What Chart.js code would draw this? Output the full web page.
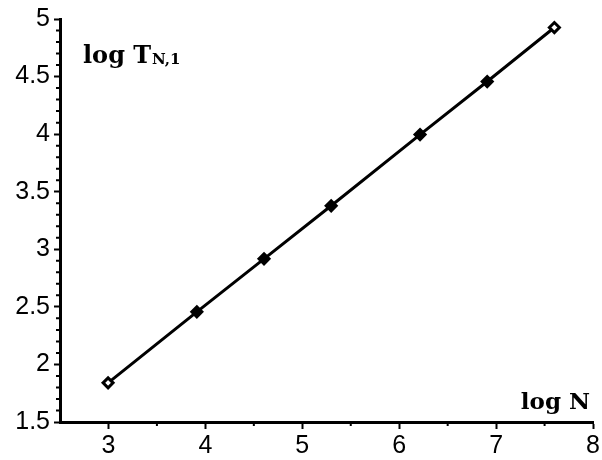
<!DOCTYPE html>
<html>
<head>
<meta charset="utf-8">
<script src="https://cdn.jsdelivr.net/npm/chart.js@4.4.1/dist/chart.umd.min.js"></script>
<style>
  html, body { margin: 0; padding: 0; background: #fff; }
  #wrap { width: 602px; height: 460px; position: relative; }
</style>
</head>
<body>
<div id="wrap"><canvas id="c" width="602" height="460"></canvas></div>
<script>
// Data: log N vs log T_{N,1}
const logN = [2.996, 3.912, 4.605, 5.298, 6.215, 6.908, 7.601];
const logT = [1.84, 2.457, 2.917, 3.378, 3.996, 4.457, 4.926];
const pointFills = ['#fff', '#000', '#000', '#000', '#000', '#000', '#fff'];

const xMin = 2.5, xMax = 8, xStep = 0.5;
const yMin = 1.5, yMax = 5, yStep = 0.1;

const yLabel = 'log T';
const ySub = 'N,1';
const xLabel = 'log N';

const isMajorX = v => Math.abs(v - Math.round(v)) < 1e-6;
const isMajorY = v => Math.abs(v * 2 - Math.round(v * 2)) < 1e-6;

const minorTicks = {
  id: 'minorTicks',
  afterDraw(chart) {
    const ctx = chart.ctx;
    const xs = chart.scales.x, ys = chart.scales.y;
    ctx.save();
    ctx.strokeStyle = '#000';
    ctx.lineWidth = 2;
    ctx.beginPath();
    xs.ticks.forEach(t => {
      if (!isMajorX(t.value) && t.value > xMin + 1e-6) {
        const px = xs.getPixelForValue(t.value);
        ctx.moveTo(px, xs.top);
        ctx.lineTo(px, xs.top + 4);
      }
    });
    ys.ticks.forEach(t => {
      if (!isMajorY(t.value)) {
        const py = ys.getPixelForValue(t.value);
        ctx.moveTo(ys.right, py);
        ctx.lineTo(ys.right - 4, py);
      }
    });
    ctx.stroke();

    // axis captions
    ctx.fillStyle = '#000';
    ctx.textBaseline = 'alphabetic';
    ctx.font = 'bold 24px "DejaVu Serif"';
    ctx.textAlign = 'left';
    const lx = chart.chartArea.left + 23, ly = chart.chartArea.top + 44;
    ctx.fillText(yLabel, lx, ly);
    const w = ctx.measureText(yLabel).width;
    ctx.font = 'bold 15px "DejaVu Serif"';
    ctx.fillText(ySub, lx + w + 1, ly + 1);

    ctx.font = 'bold 23px "DejaVu Serif"';
    ctx.textAlign = 'right';
    ctx.fillText(xLabel, chart.chartArea.right - 3, chart.chartArea.bottom - 13);
    ctx.restore();
  }
};

new Chart(document.getElementById('c'), {
  type: 'line',
  data: {
    datasets: [{
      data: logN.map((x, i) => ({ x: x, y: logT[i] })),
      borderColor: '#000',
      borderWidth: 3,
      tension: 0,
      pointStyle: 'rectRot',
      pointRadius: 5,
      pointBorderWidth: 3,
      pointBorderColor: '#000',
      pointBackgroundColor: pointFills,
      clip: false
    }]
  },
  options: {
    responsive: false,
    animation: false,
    events: [],
    layout: { padding: { left: 0, right: 8, top: 18, bottom: 0 } },
    plugins: { legend: { display: false }, tooltip: { enabled: false }, title: { display: false } },
    scales: {
      x: {
        type: 'linear',
        min: xMin, max: xMax,
        afterFit: s => { s.height = 38; },
        border: { display: true, color: '#000', width: 3 },
        grid: {
          drawOnChartArea: false, drawTicks: true, tickLength: 7,
          tickWidth: 2,
          tickColor: c => (c.tick && isMajorX(c.tick.value) && c.tick.value > xMin + 1e-6) ? '#000' : 'rgba(0,0,0,0)'
        },
        ticks: {
          stepSize: xStep, maxTicksLimit: 1000, autoSkip: false, maxRotation: 0,
          padding: 2,
          color: '#000',
          font: { family: '"Liberation Sans", Arial, sans-serif', size: 25 },
          callback: v => isMajorX(v) ? String(Math.round(v)) : ''
        }
      },
      y: {
        type: 'linear',
        min: yMin, max: yMax,
        afterFit: s => { s.width = 60; },
        border: { display: true, color: '#000', width: 3 },
        grid: {
          drawOnChartArea: false, drawTicks: true, tickLength: 6,
          tickWidth: 2,
          tickColor: c => (c.tick && isMajorY(c.tick.value)) ? '#000' : 'rgba(0,0,0,0)'
        },
        ticks: {
          stepSize: yStep, maxTicksLimit: 1000, autoSkip: false,
          padding: 4,
          color: '#000',
          font: { family: '"Liberation Sans", Arial, sans-serif', size: 25 },
          callback: v => isMajorY(v) ? String(Math.round(v * 2) / 2) : ''
        }
      }
    }
  },
  plugins: [minorTicks]
});
</script>
</body>
</html>
